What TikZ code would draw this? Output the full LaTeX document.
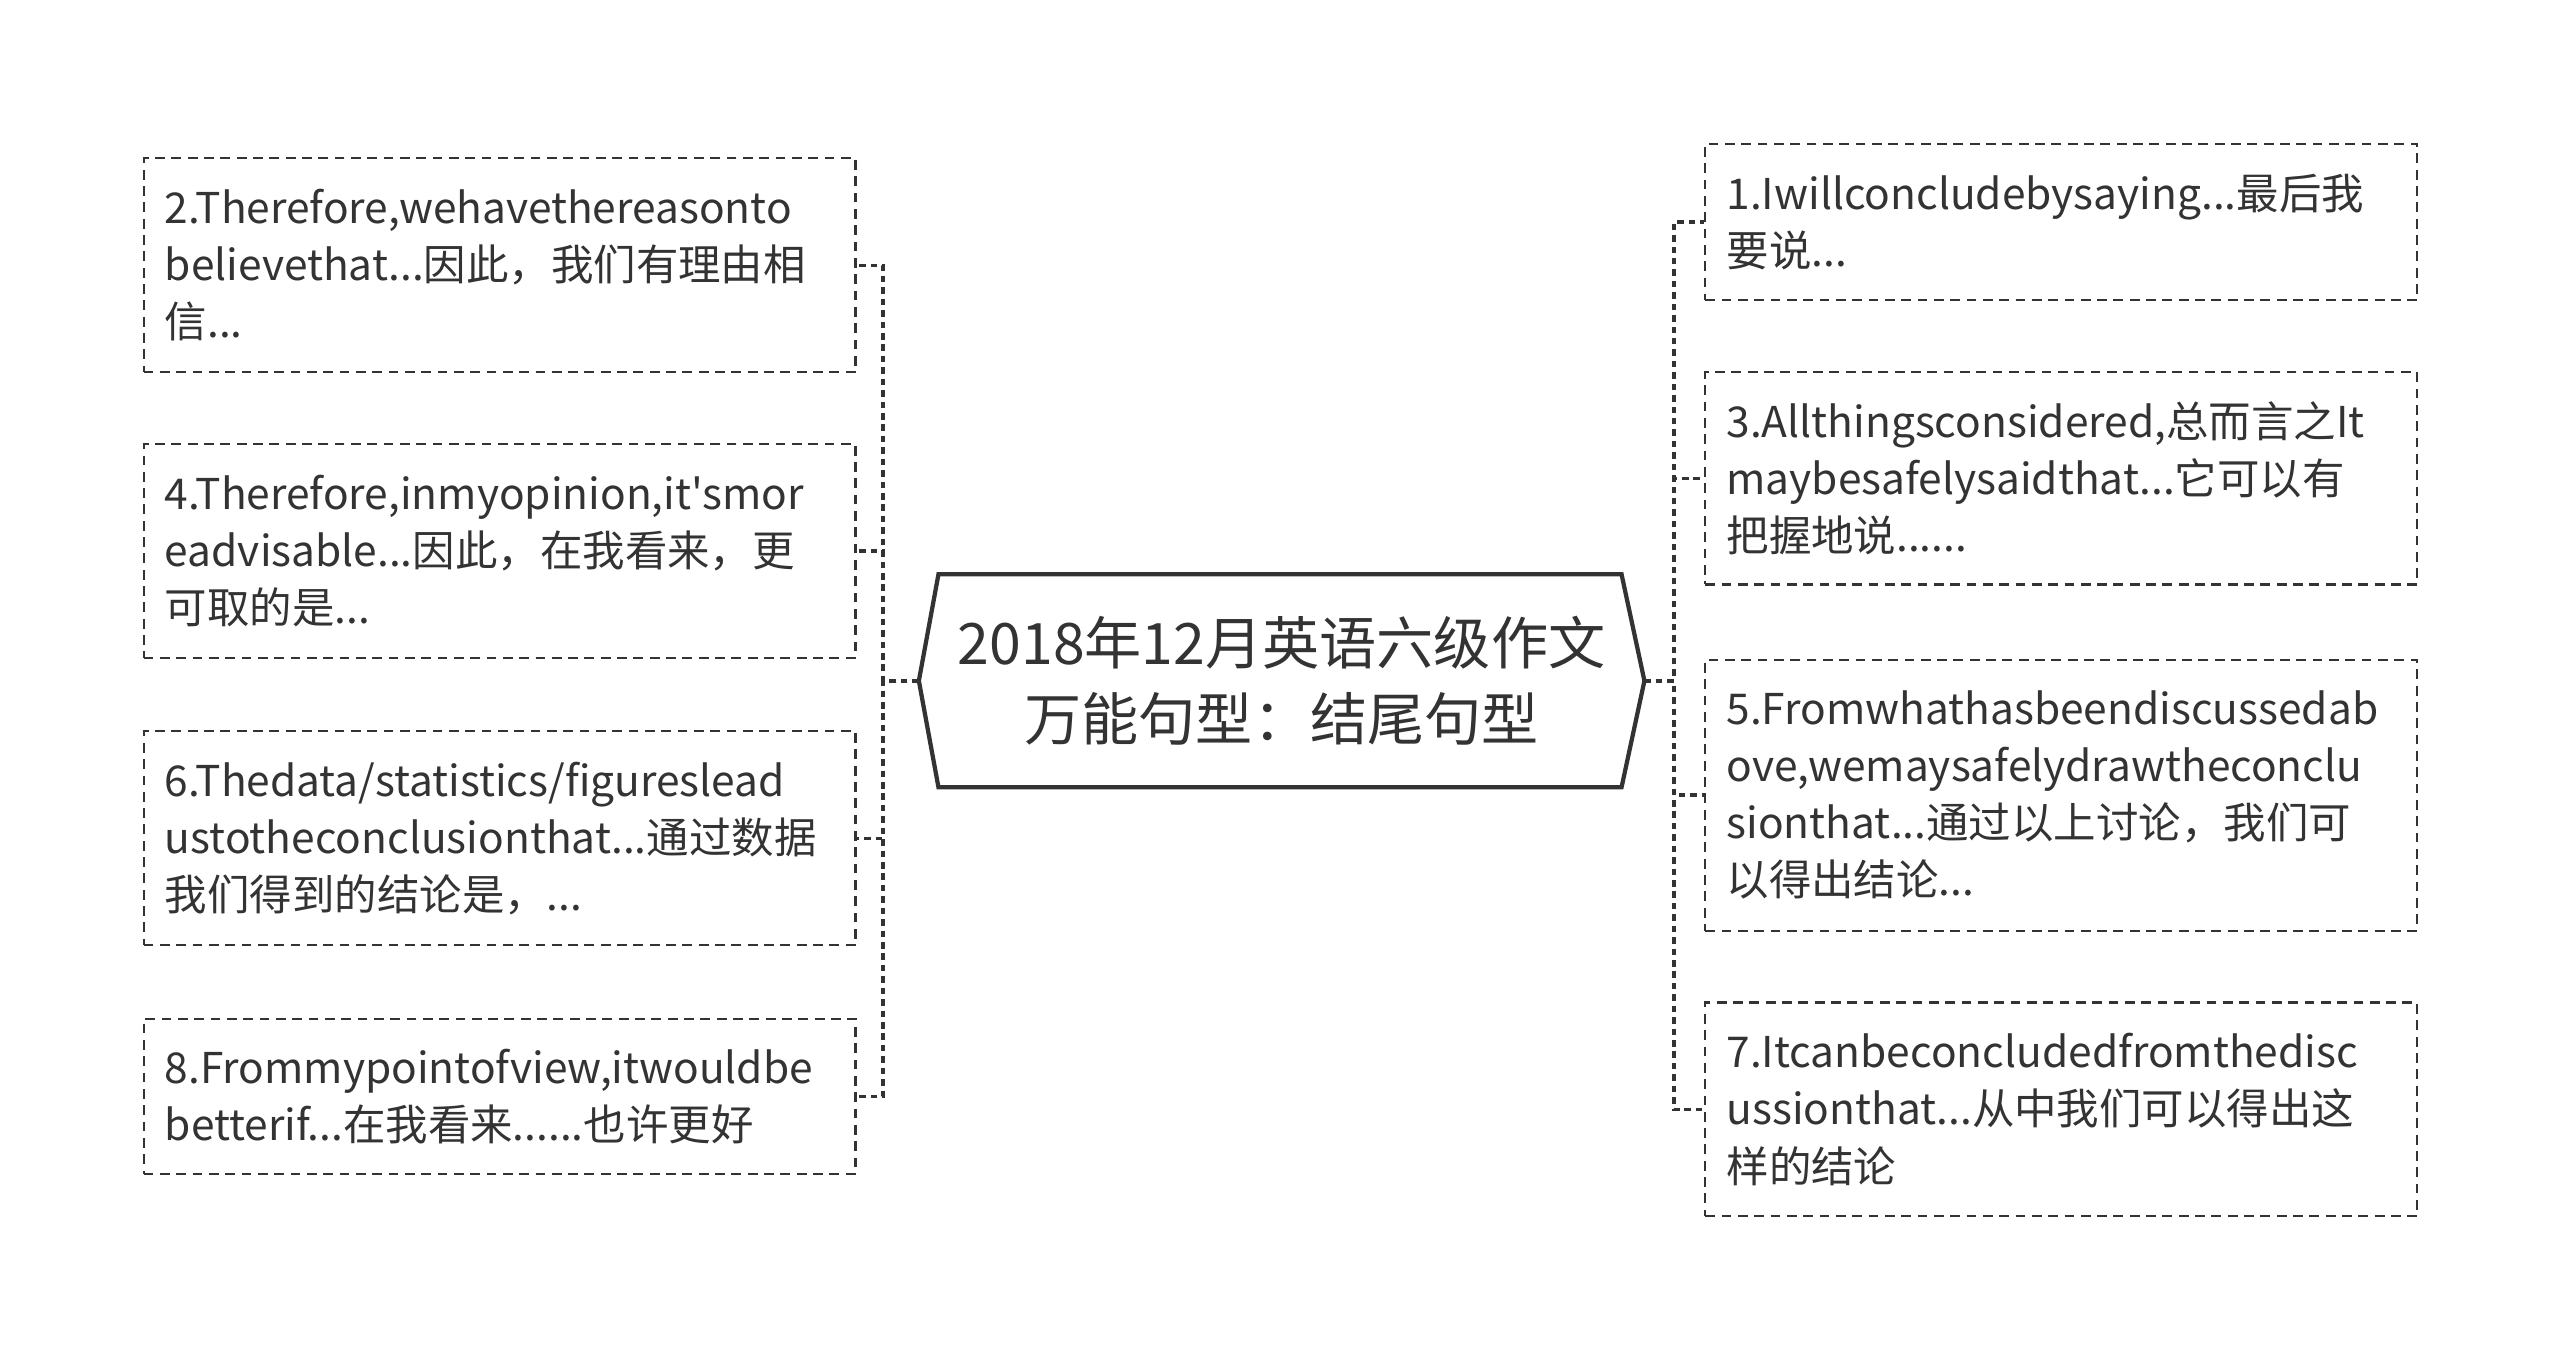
\documentclass[tikz,border=0pt]{standalone}
\usepackage{fontspec}
\setmainfont{Noto Sans CJK SC}[Ligatures=TeXOff]
\definecolor{inkgray}{HTML}{333333}
\begin{document}
\begin{tikzpicture}[x=1pt,y=-1pt,
		sentbox/.style={draw=inkgray, line width=1.3pt, dash pattern=on 6pt off 4pt,
			text=inkgray, text width=410pt, inner xsep=13pt, inner ysep=0pt, align=left,
			font=\fontsize{26}{35}\selectfont},
		rootbox/.style={text=inkgray, minimum width=444pt, minimum height=130pt, align=center,
			font=\fontsize{35}{47}\selectfont},
		hexline/.style={draw=inkgray, line width=2.6pt, line join=miter},
		link/.style={draw=inkgray, line width=2.2pt, dash pattern=on 4pt off 3pt}]
		\useasboundingbox (0,0) rectangle (1568,834);
		
		\node[rootbox] (root) at (785,417) {2018年12月英语六级作文\\万能句型：结尾句型};
		\draw[hexline] (root.west) -- ([xshift=12pt]root.north west) -- ([xshift=-14pt]root.north east)
			-- (root.east) -- ([xshift=-14pt]root.south east) -- ([xshift=12pt]root.south west) -- cycle;
		
		\node[sentbox, minimum height=131pt] (s2) at (306,162.5) {2.Therefore,wehavethereasonto\\believethat...因此，我们有理由相\\信...};
		\node[sentbox, minimum height=131pt] (s4) at (306,337.5) {4.Therefore,inmyopinion,it'smor\\eadvisable...因此，在我看来，更\\可取的是...};
		\node[sentbox, minimum height=131pt] (s6) at (306,513.5) {6.Thedata/statistics/figureslead\\ustotheconclusionthat...通过数据\\我们得到的结论是，...};
		\node[sentbox, minimum height=95pt] (s8) at (306,671.5) {8.Frommypointofview,itwouldbe\\betterif...在我看来......也许更好};
		
		\node[sentbox, minimum height=96pt] (s1) at (1262.5,136) {1.Iwillconcludebysaying...最后我\\要说...};
		\node[sentbox, minimum height=130pt] (s3) at (1262.5,293) {3.Allthingsconsidered,总而言之It\\maybesafelysaidthat...它可以有\\把握地说......};
		\node[sentbox, minimum height=166pt] (s5) at (1262.5,487) {5.Fromwhathasbeendiscussedab\\ove,wemaysafelydrawtheconclu\\sionthat...通过以上讨论，我们可\\以得出结论...};
		\node[sentbox, minimum height=131pt] (s7) at (1262.5,679.5) {7.Itcanbeconcludedfromthedisc\\ussionthat...从中我们可以得出这\\样的结论};
		
		\draw[link] (root.west) -- ++(-22,0) |- (s2.east);
		\draw[link] (root.west) -- ++(-22,0) |- (s4.east);
		\draw[link] (root.west) -- ++(-22,0) |- (s6.east);
		\draw[link] (root.west) -- ++(-22,0) |- (s8.east);
		
		\draw[link] (root.east) -- ++(18,0) |- (s1.west);
		\draw[link] (root.east) -- ++(18,0) |- (s3.west);
		\draw[link] (root.east) -- ++(18,0) |- (s5.west);
		\draw[link] (root.east) -- ++(18,0) |- (s7.west);
	\end{tikzpicture}
\end{document}
